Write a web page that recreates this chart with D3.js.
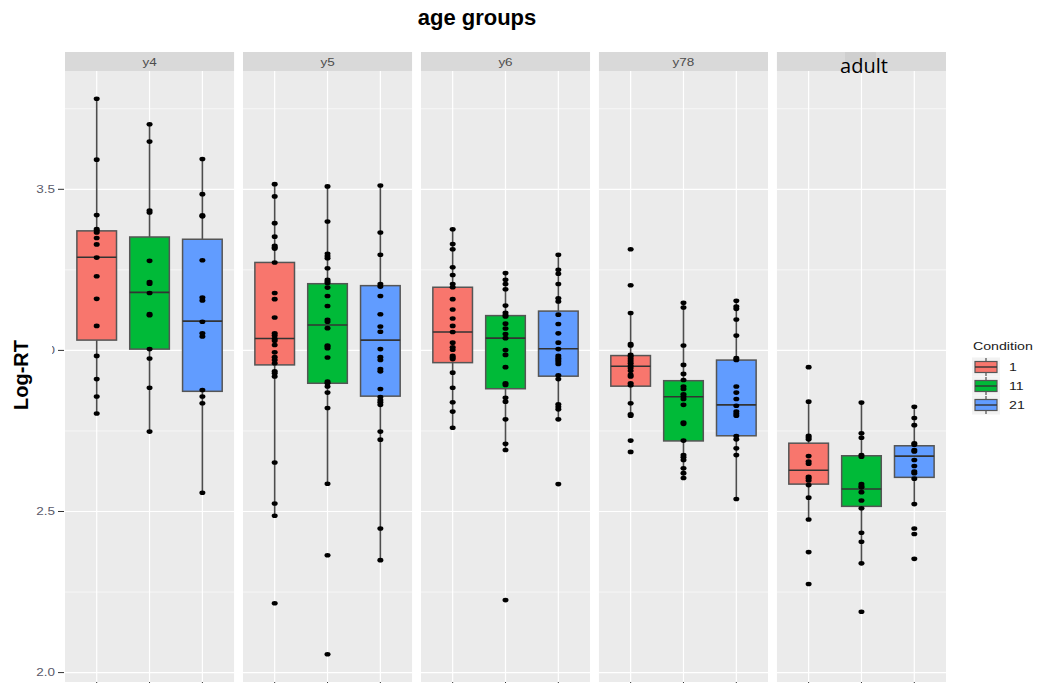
<!DOCTYPE html>
<html>
<head>
<meta charset="utf-8">
<script src="https://cdn.jsdelivr.net/npm/d3@7"></script>
<style>
  body { margin: 0; background: #fff; }
  text { font-family: "Liberation Sans", Arial, sans-serif; }
</style>
</head>
<body>
<script>
var groups = ["y4", "y5", "y6", "y78", "adult"];
var conditions = ["1", "11", "21"];
var colors = ["#F8766D", "#00BA38", "#619CFF"];
var yTicks = [2.0, 2.5, 3.0, 3.5];
var yMinor = [2.25, 2.75, 3.25, 3.75];

// box stats, per group: condition 1, 11, 21
var q1 = [[3.032, 3.004, 2.873], [2.955, 2.898, 2.858], [2.962, 2.881, 2.920], [2.889, 2.719, 2.735], [2.585, 2.516, 2.606]];
var med = [[3.289, 3.180, 3.091], [3.037, 3.079, 3.032], [3.057, 3.038, 3.005], [2.951, 2.856, 2.831], [2.628, 2.570, 2.672]];
var q3 = [[3.371, 3.352, 3.345], [3.273, 3.207, 3.201], [3.196, 3.108, 3.122], [2.984, 2.906, 2.970], [2.712, 2.673, 2.704]];

// individual log-RT points
var ptsY4 = [
  [3.781, 3.592, 3.420, 3.377, 3.372, 3.366, 3.349, 3.329, 3.288, 3.230, 3.160, 3.076, 2.983, 2.911, 2.857, 2.804],
  [3.702, 3.648, 3.434, 3.428, 3.278, 3.212, 3.207, 3.178, 3.113, 3.109, 3.004, 2.975, 2.884, 2.748],
  [3.594, 3.485, 3.419, 3.416, 3.280, 3.164, 3.155, 3.089, 3.053, 3.043, 2.877, 2.857, 2.836, 2.558]
];
var ptsY5 = [
  [3.516, 3.478, 3.395, 3.353, 3.325, 3.320, 3.316, 3.273, 3.178, 3.159, 3.102, 3.053, 3.046, 3.036, 3.030, 3.017, 2.994, 2.979, 2.970, 2.960, 2.935, 2.929, 2.919, 2.652, 2.525, 2.487, 2.215],
  [3.509, 3.400, 3.300, 3.293, 3.286, 3.255, 3.219, 3.214, 3.209, 3.195, 3.169, 3.138, 3.095, 3.089, 3.069, 3.015, 3.012, 3.007, 2.978, 2.903, 2.898, 2.888, 2.869, 2.821, 2.586, 2.364, 2.057],
  [3.512, 3.366, 3.297, 3.206, 3.198, 3.169, 3.112, 3.074, 3.058, 3.004, 2.979, 2.970, 2.942, 2.935, 2.880, 2.855, 2.846, 2.839, 2.831, 2.748, 2.723, 2.447, 2.349]
];
var ptsY6 = [
  [3.376, 3.330, 3.314, 3.258, 3.234, 3.206, 3.196, 3.159, 3.127, 3.099, 3.076, 3.057, 3.024, 3.010, 3.002, 2.983, 2.978, 2.973, 2.931, 2.884, 2.839, 2.810, 2.760],
  [3.240, 3.219, 3.206, 3.190, 3.139, 3.117, 3.110, 3.105, 3.083, 3.068, 3.051, 3.038, 3.001, 2.986, 2.948, 2.898, 2.893, 2.853, 2.841, 2.786, 2.710, 2.691, 2.225],
  [3.297, 3.250, 3.238, 3.206, 3.162, 3.152, 3.111, 3.082, 3.053, 3.024, 3.004, 2.983, 2.976, 2.970, 2.965, 2.958, 2.923, 2.911, 2.833, 2.825, 2.817, 2.786, 2.585]
];
var ptsY78 = [
  [3.314, 3.202, 3.116, 3.020, 3.015, 2.986, 2.981, 2.974, 2.967, 2.960, 2.952, 2.945, 2.937, 2.924, 2.919, 2.898, 2.892, 2.836, 2.802, 2.797, 2.720, 2.685],
  [3.148, 3.133, 3.015, 2.955, 2.927, 2.908, 2.888, 2.880, 2.864, 2.857, 2.849, 2.831, 2.776, 2.772, 2.720, 2.675, 2.668, 2.660, 2.634, 2.619, 2.604],
  [3.154, 3.136, 3.129, 3.096, 3.046, 2.976, 2.970, 2.888, 2.869, 2.849, 2.828, 2.810, 2.803, 2.797, 2.734, 2.724, 2.696, 2.675, 2.539]
];
var ptsAdult = [
  [2.948, 2.841, 2.735, 2.730, 2.724, 2.672, 2.655, 2.648, 2.608, 2.603, 2.596, 2.582, 2.543, 2.475, 2.374, 2.275],
  [2.838, 2.743, 2.729, 2.675, 2.670, 2.585, 2.579, 2.575, 2.560, 2.534, 2.510, 2.434, 2.406, 2.339, 2.189],
  [2.825, 2.790, 2.768, 2.712, 2.707, 2.691, 2.686, 2.660, 2.641, 2.624, 2.619, 2.602, 2.523, 2.447, 2.430, 2.353]
];
var allPts = [ptsY4, ptsY5, ptsY6, ptsY78, ptsAdult];

var width = 1048, height = 683;
var svg = d3.select("body").append("svg")
    .attr("width", width)
    .attr("height", height);

var stripTop = 52, stripH = 19;
var panelTop = stripTop + stripH;
var panelBottom = 682;

// y domain like ggplot: data range plus 5%
var flat = allPts.flat(2);
var lo = d3.min(flat), hi = d3.max(flat), pad = (hi - lo) * 0.05;
var y = d3.scaleLinear().domain([lo - pad, hi + pad]).range([panelBottom, panelTop]);

var fx = d3.scaleBand().domain(groups).range([65, 946]).paddingInner(0.05);
var x = d3.scalePoint().domain(conditions).range([0, fx.bandwidth()]).padding(0.6);
var boxW = x.step() * 0.75;
var stretch = 1.35; // the picture is wider than tall

function sText(sel, tx, ty) {
  return sel.attr("transform", "translate(" + tx + "," + ty + ") scale(" + stretch + ",1)");
}

// title
svg.append("text")
    .attr("x", 477).attr("y", 25)
    .attr("text-anchor", "middle")
    .style("font-size", "22px").style("font-weight", "bold")
    .text("age groups");

groups.forEach(function (g, gi) {
  var px = fx(g);
  var panel = svg.append("g").attr("transform", "translate(" + px + ",0)");

  panel.append("rect")
      .attr("x", 0).attr("y", panelTop)
      .attr("width", fx.bandwidth()).attr("height", panelBottom - panelTop)
      .attr("fill", "#EBEBEB");

  panel.selectAll(".minor").data(yMinor).enter().append("line")
      .attr("x1", 0).attr("x2", fx.bandwidth())
      .attr("y1", function (d) { return y(d); }).attr("y2", function (d) { return y(d); })
      .attr("stroke", "#fff").attr("stroke-width", 0.6);
  panel.selectAll(".major").data(yTicks).enter().append("line")
      .attr("x1", 0).attr("x2", fx.bandwidth())
      .attr("y1", function (d) { return y(d); }).attr("y2", function (d) { return y(d); })
      .attr("stroke", "#fff").attr("stroke-width", 1.2);
  panel.selectAll(".vgrid").data(conditions).enter().append("line")
      .attr("x1", function (d) { return x(d); }).attr("x2", function (d) { return x(d); })
      .attr("y1", panelTop).attr("y2", panelBottom)
      .attr("stroke", "#fff").attr("stroke-width", 1.2);

  // x ticks (mostly cut off at the bottom)
  panel.selectAll(".xt").data(conditions).enter().append("line")
      .attr("x1", function (d) { return x(d); }).attr("x2", function (d) { return x(d); })
      .attr("y1", panelBottom).attr("y2", panelBottom + 4)
      .attr("stroke", "#333").attr("stroke-width", 1);

  // strip
  panel.append("rect")
      .attr("x", 0).attr("y", stripTop)
      .attr("width", fx.bandwidth()).attr("height", stripH)
      .attr("fill", "#D9D9D9");
  if (g !== "adult") {
    sText(panel.append("text"), fx.bandwidth() / 2, 66)
        .attr("text-anchor", "middle")
        .style("font-size", "10px").attr("fill", "#4D4D4D")
        .text(g);
  }

  conditions.forEach(function (c, ci) {
    var pts = allPts[gi][ci];
    var a = q1[gi][ci], m = med[gi][ci], b = q3[gi][ci], iqr = b - a;
    var wLo = d3.min(pts.filter(function (v) { return v >= a - 1.5 * iqr; }));
    var wHi = d3.max(pts.filter(function (v) { return v <= b + 1.5 * iqr; }));
    var cx = x(c);

    panel.append("line")
        .attr("x1", cx).attr("x2", cx)
        .attr("y1", y(wHi)).attr("y2", y(wLo))
        .attr("stroke", "#4d4d4d").attr("stroke-width", 1.6);
    panel.append("rect")
        .attr("x", cx - boxW / 2).attr("y", y(b))
        .attr("width", boxW).attr("height", y(a) - y(b))
        .attr("fill", colors[ci])
        .attr("stroke", "#555").attr("stroke-width", 1.5);
    panel.append("line")
        .attr("x1", cx - boxW / 2).attr("x2", cx + boxW / 2)
        .attr("y1", y(m)).attr("y2", y(m))
        .attr("stroke", "#333").attr("stroke-width", 1.6);

    panel.selectAll(".pt" + ci).data(pts).enter().append("ellipse")
        .attr("cx", cx).attr("cy", function (d) { return y(d); })
        .attr("rx", 3).attr("ry", 2.3)
        .attr("fill", "#000");
  });
});

// y axis
var yAx = svg.append("g");
yAx.selectAll("line").data(yTicks).enter().append("line")
    .attr("x1", 58).attr("x2", 64)
    .attr("y1", function (d) { return y(d); }).attr("y2", function (d) { return y(d); })
    .attr("stroke", "#333").attr("stroke-width", 1);
yAx.selectAll("text").data(yTicks).enter().append("text")
    .each(function (d) { sText(d3.select(this), 55, y(d) + 3.5); })
    .attr("text-anchor", "end")
    .style("font-size", "10px").attr("fill", "#5a5a6a")
    .text(function (d) { return d3.format(".1f")(d); });

// pasted axis label (white box over the 3.0 tick label)
svg.append("rect").attr("x", 0).attr("y", 325).attr("width", 52).attr("height", 100).attr("fill", "#fff");
svg.append("text")
    .attr("transform", "translate(28,375) rotate(-90)")
    .attr("text-anchor", "middle")
    .style("font-size", "20px").style("font-weight", "bold")
    .text("Log-RT");

// pasted "adult" strip label
svg.append("rect").attr("x", 845).attr("y", stripTop).attr("width", 31).attr("height", 10).attr("fill", "#CFCFCF");
svg.append("text")
    .attr("x", 864).attr("y", 73)
    .attr("text-anchor", "middle")
    .style("font-family", "'Open Sans', sans-serif")
    .style("font-size", "20px").attr("fill", "#000")
    .text("adult");

// legend
var leg = svg.append("g");
sText(leg.append("text"), 973, 350)
    .style("font-size", "10.5px").attr("fill", "#1A1A1A")
    .text("Condition");
conditions.forEach(function (c, ci) {
  var cy = 367 + ci * 19;
  leg.append("rect").attr("x", 972).attr("y", cy - 9.5).attr("width", 28).attr("height", 19).attr("fill", "#F2F2F2");
  leg.append("line").attr("x1", 986).attr("x2", 986).attr("y1", cy - 9).attr("y2", cy + 9)
      .attr("stroke", "#4d4d4d").attr("stroke-width", 1.2);
  leg.append("rect").attr("x", 975).attr("y", cy - 5.5).attr("width", 22).attr("height", 11)
      .attr("fill", colors[ci]).attr("stroke", "#555").attr("stroke-width", 1.2);
  leg.append("line").attr("x1", 975).attr("x2", 997).attr("y1", cy).attr("y2", cy)
      .attr("stroke", "#333").attr("stroke-width", 1.4);
  sText(leg.append("text"), 1009, cy + 4)
      .style("font-size", "10.5px").attr("fill", "#1A1A1A")
      .text(c);
});
</script>
</body>
</html>
